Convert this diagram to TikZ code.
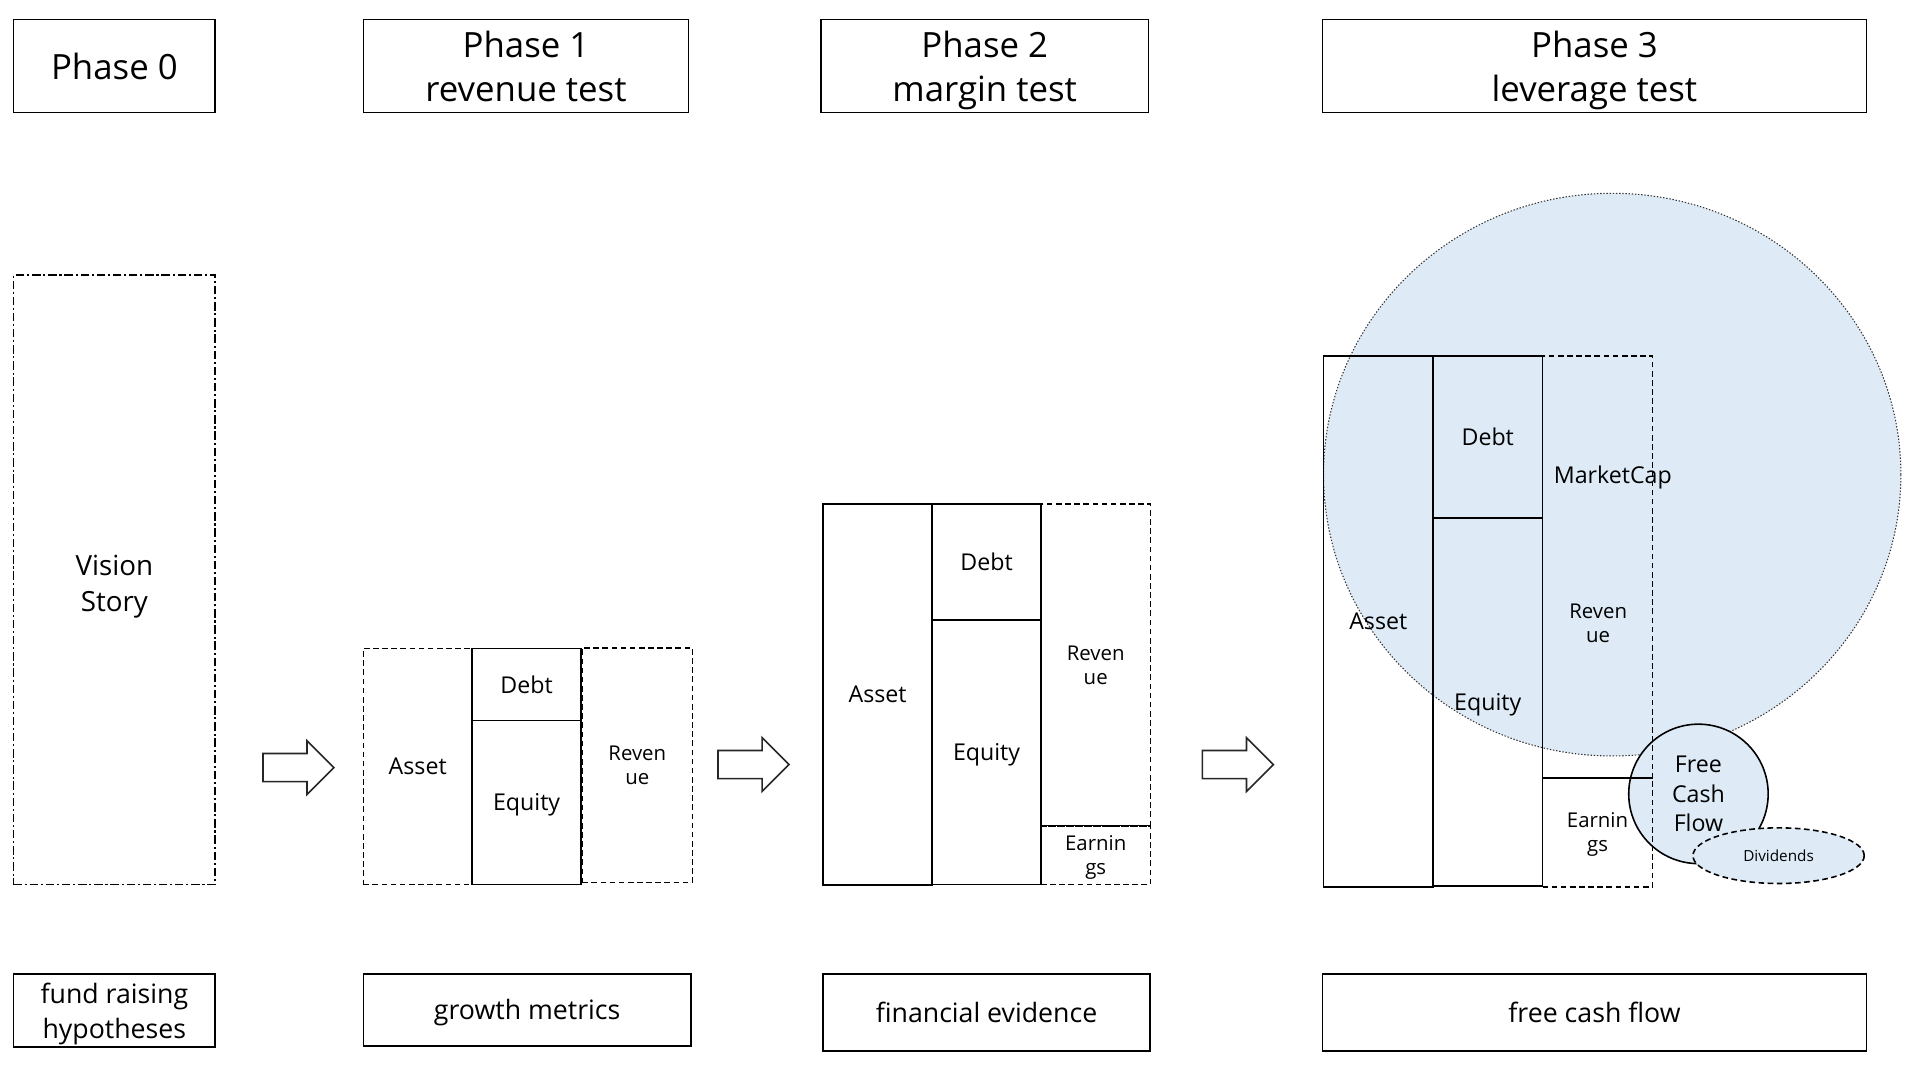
\documentclass[tikz,border=0pt]{standalone}
\usepackage{fontspec}
\setmainfont{Open Sans}
\usepackage{tikz}
\usetikzlibrary{positioning,shapes.geometric}
\definecolor{capblue}{HTML}{DEEBF7}
\newcommand{\px}{0.012232cm}
\tikzset{box/.style = {draw,line width=0.45pt,inner sep=0pt,align=center,text depth=0pt},
         sz/.style 2 args = {minimum width=#1*\px,minimum height=#2*\px},
         dashbox/.style = {box,dash pattern=on 1.6pt off 1pt},
         dashdotbox/.style = {box,dash pattern=on 2.4pt off 0.8pt on 0.6pt off 0.8pt},
         titlebox/.style = {box,font=\fontsize{9.9}{12.5}\selectfont},
         footbox/.style = {box,font=\fontsize{7.6}{10}\selectfont},
         cellfont/.style = {font=\fontsize{6.6}{8}\selectfont},
         smallfont/.style = {font=\fontsize{5.8}{6.8}\selectfont},
         blockarrow/.style = {draw=black!85,line width=0.45pt,fill=white,line join=miter}}

\begin{document}
\begin{tikzpicture}[x=\px,y=-\px]
\useasboundingbox (0,0) rectangle (1568,876);
\node[titlebox,sz={165}{76}] (ph0) at (93.5,54) {Phase 0};
\node[titlebox,sz={266}{76}] (ph1) at (430,54) {Phase 1\\revenue test};
\node[titlebox,sz={268}{76}] (ph2) at (805,54) {Phase 2\\margin test};
\node[titlebox,sz={445}{76}] (ph3) at (1303.5,54) {Phase 3\\leverage test};

\node[dashdotbox,sz={165}{498}] (vision) at (93.5,474) {};
\node[align=center,text depth=0pt,font=\fontsize{7.9}{10.4}\selectfont] (visiontext) at (93.5,477) {Vision\\Story};

\foreach \ax/\ay in {215/627.5, 587/625, 983/625} {
    \draw[blockarrow] (\ax,\ay-11.5) -- ++(36,0) -- ++(0,-10.5) -- ++(22,22) -- ++(-22,22) -- ++(0,-10.5) -- ++(-36,0) -- cycle;
}

\node[dashbox,cellfont,sz={89}{193}] (asset1) at (341.5,626.5) {Asset};
\node[dashbox,smallfont,sz={90}{192}] (rev1) at (521,625.5) {Reven\\ue};
\node[box,cellfont,sz={89}{59}] (debt1) at (430.5,559.5) {Debt};
\node[box,cellfont,sz={89}{134}] (eq1) at (430.5,656) {Equity};

\node[dashbox,smallfont,sz={89.5}{263.5}] (rev2) at (895.75,543.75) {Reven\\ue};
\node[dashbox,smallfont,sz={89.5}{47.5}] (earn2) at (895.75,699.25) {Earnin\\gs};
\draw[line width=0.45pt] (earn2.north west) -- (earn2.north east);
\node[box,cellfont,sz={89}{311.5}] (asset2) at (717.5,567.75) {Asset};
\node[box,cellfont,sz={89}{95}] (debt2) at (806.5,459.5) {Debt};
\node[box,cellfont,sz={89}{216}] (eq2) at (806.5,615) {Equity};

\node[ellipse,draw=black!80,fill=capblue,line width=0.3pt,dash pattern=on 0.4pt off 0.5pt,inner sep=0pt,sz={472}{460}] (mcap) at (1318,388) {};
\node[circle,draw,fill=capblue,line width=0.45pt,inner sep=0pt,minimum size=114*\px,align=center,font=\fontsize{6.6}{8.3}\selectfont] (fcf) at (1388.5,649) {Free\\Cash\\Flow};
\node[ellipse,draw,fill=capblue,line width=0.45pt,dash pattern=on 1.6pt off 1pt,inner sep=0pt,sz={140}{45.5},font=\fontsize{4.35}{5}\selectfont] (div) at (1454,699.5) {Dividends};
\node[dashbox,sz={90}{345}] (rev3) at (1306,463.5) {};
\node[dashbox,smallfont,sz={90}{89}] (earn3) at (1306,680.5) {Earnin\\gs};
\node[box,cellfont,sz={89.5}{434}] (asset3) at (1126.75,508) {Asset};
\node[box,cellfont,sz={89.5}{132.5}] (debt3) at (1216.25,357.25) {Debt};
\node[box,cellfont,sz={89.5}{301}] (eq3) at (1216.25,574) {Equity};
\node[cellfont] (mcaplabel) at (1318.5,390) {MarketCap};
\node[smallfont,align=center] (revlabel3) at (1306.5,509.5) {Reven\\ue};

\node[footbox,sz={165}{60}] (foot0) at (93.5,826) {fund raising\\hypotheses};
\node[footbox,sz={268}{59}] (foot1) at (431,825.5) {growth metrics};
\node[footbox,sz={267}{63}] (foot2) at (806.5,827.5) {financial evidence};
\node[footbox,sz={445}{63}] (foot3) at (1303.5,827.5) {free cash flow};
\end{tikzpicture}
\end{document}
